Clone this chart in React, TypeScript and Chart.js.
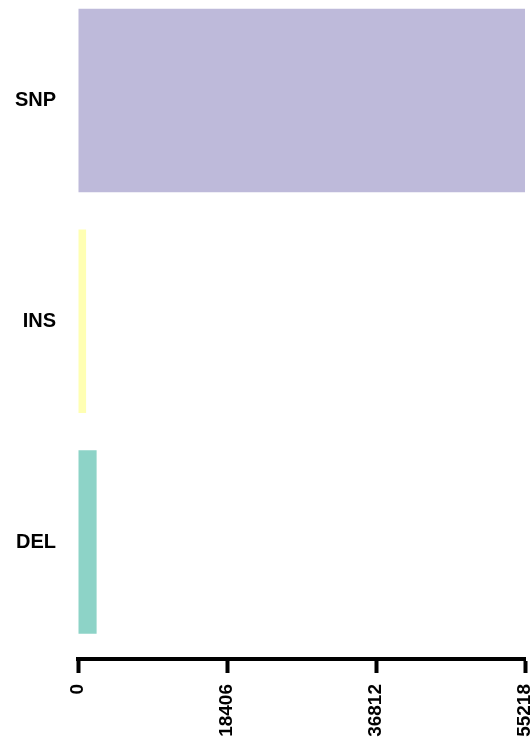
import React, { useEffect, useRef } from "react";
import { Chart, registerables } from "chart.js";

Chart.register(...registerables);

const categories = ["SNP", "INS", "DEL"];
const counts = [55218, 1000, 2300];
const barColors = ["#BEBADA", "#FFFFB3", "#8DD3C7"];
const xTickValues = [0, 18406, 36812, 55218];

const FONT = "'Liberation Sans', Arial, Helvetica, sans-serif";

export default function App() {
  const ref = useRef<HTMLCanvasElement>(null);

  useEffect(() => {
    if (!ref.current) return;
    const chart = new Chart(ref.current, {
      type: "bar",
      data: {
        datasets: [
          {
            data: counts.map((v, i) => ({ x: v, y: i })),
            backgroundColor: barColors,
            borderWidth: 0,
            barPercentage: 0.831,
            categoryPercentage: 1,
          } as any,
        ],
      },
      options: {
        indexAxis: "y",
        responsive: false,
        maintainAspectRatio: false,
        animation: false,
        devicePixelRatio: 1,
        layout: { padding: { top: 0, right: 5, bottom: 0, left: 0 } },
        plugins: {
          legend: { display: false },
          tooltip: { enabled: false },
        },
        scales: {
          x: {
            type: "linear",
            position: "bottom",
            min: 0,
            max: xTickValues[xTickValues.length - 1],
            afterBuildTicks: (scale: any) => {
              scale.ticks = xTickValues.map((v) => ({ value: v }));
            },
            afterFit: (scale: any) => {
              scale.height = 78;
              scale.paddingLeft = 0;
              scale.paddingRight = 0;
            },
            border: { display: true, color: "#000", width: 4 },
            grid: {
              display: true,
              drawOnChartArea: false,
              drawTicks: true,
              tickLength: 14,
              tickWidth: 4,
              tickColor: "#000",
            },
            ticks: {
              autoSkip: false,
              minRotation: 90,
              maxRotation: 90,
              padding: 11,
              color: "#000",
              font: { family: FONT, size: 19, weight: "bold" },
              callback: (v: any) => String(v),
            },
          },
          y: {
            type: "linear",
            reverse: true,
            offset: false,
            min: -0.4553,
            max: 2.53,
            afterBuildTicks: (scale: any) => {
              scale.ticks = categories.map((_, i) => ({ value: i }));
            },
            afterFit: (scale: any) => {
              scale.width = 78;
              scale.paddingTop = 0;
              scale.paddingBottom = 0;
            },
            border: { display: false },
            grid: { display: false, drawTicks: false, offset: false },
            ticks: {
              autoSkip: false,
              padding: 22,
              color: "#000",
              font: { family: FONT, size: 20, weight: "bold" },
              callback: (v: any) => categories[v as number] ?? "",
            },
          },
        },
      } as any,
    });
    return () => chart.destroy();
  }, []);

  return (
    <div style={{ position: "absolute", left: 0, top: 0, width: 530, height: 737, background: "#fff" }}>
      <canvas ref={ref} width={530} height={737} style={{ display: "block" }} />
    </div>
  );
}
